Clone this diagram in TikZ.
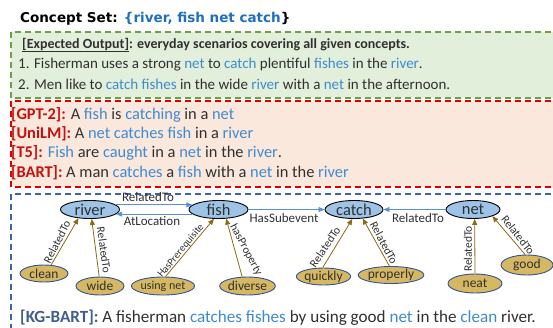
\documentclass[tikz,border=0pt]{standalone}
\usepackage{fontspec}
\setmainfont{Carlito}
\newfontfamily\titlefont{DejaVu Sans}
\usetikzlibrary{arrows.meta,shapes.geometric}
\definecolor{kwblue}{HTML}{3E8AD0}
\definecolor{ttlblue}{HTML}{1F6FC0}
\definecolor{redlbl}{HTML}{C81010}
\definecolor{kglbl}{HTML}{3F5E8C}
\definecolor{greenfill}{HTML}{E2EFDA}
\definecolor{greenline}{HTML}{6E9E48}
\definecolor{redfill}{HTML}{FBE8DD}
\definecolor{redline}{HTML}{E00000}
\definecolor{blueline}{HTML}{3F63A8}
\definecolor{nodefill}{HTML}{9DC3E6}
\definecolor{leaffill}{HTML}{D7B862}
\definecolor{leafline}{HTML}{2F5597}
\definecolor{edgeblue}{HTML}{5B8FD5}
\definecolor{edgebrown}{HTML}{8B6A14}
\definecolor{txtgray}{HTML}{303030}
\newcommand\kw[1]{\textcolor{kwblue}{#1}}
\tikzset{
  panel/.style={line width=1.1pt, dash pattern=on 6pt off 4pt},
  sent/.style={anchor=west, inner sep=0pt, font=\fontsize{15}{16}\selectfont, text=txtgray},
  redsent/.style={sent, font=\fontsize{16.4}{18}\selectfont},
  concept/.style={ellipse, draw=black, line width=0.9pt, fill=nodefill, inner sep=0pt, font=\fontsize{16.5}{18}\selectfont, text=txtgray},
  leaf/.style={ellipse, draw=leafline, line width=0.9pt, fill=leaffill, inner sep=0pt, font=\fontsize{13.5}{15}\selectfont, text=txtgray},
  rel/.style={-{Triangle[length=6pt,width=5pt]}, draw=edgeblue, line width=0.8pt},
  brel/.style={-{Triangle[length=6pt,width=5pt]}, draw=edgebrown, line width=0.8pt},
  elab/.style={font=\fontsize{13}{14}\selectfont, text=txtgray, inner sep=0pt},
  llab/.style={font=\fontsize{11.5}{12}\selectfont, text=txtgray, inner sep=0pt},
}
\begin{document}
\begin{tikzpicture}[x=1pt,y=-1pt]
\useasboundingbox (0,0) rectangle (553,327);
\clip (0,0) rectangle (553,327);
% panels
\draw[panel, draw=greenline, fill=greenfill] (11,32) rectangle (570,98);
\draw[panel, draw=redline, fill=redfill] (11,101) rectangle (570,187);
\draw[panel, draw=blueline] (11,194) rectangle (570,340);
% title
\node[anchor=west, inner sep=0pt, font=\titlefont\bfseries\fontsize{13.5}{15}\selectfont] (title) at (20,19) {Concept Set: \textcolor{ttlblue}{\{river, fish net catch}\}};
% expected output
\node[sent, font=\bfseries\fontsize{14}{15}\selectfont] (exp) at (22,45) {\underline{[Expected Output]}: everyday scenarios covering all given concepts.};
\node[sent] (s1) at (18,65) {1. Fisherman uses a strong \kw{net} to \kw{catch} plentiful \kw{fishes} in the \kw{river}.};
\node[sent] (s2) at (18,84) {2. Men like to \kw{catch fishes} in the wide \kw{river} with a \kw{net} in the afternoon.};
% baselines
\node[redsent] (gpt) at (11,115) {\textcolor{redlbl}{\bfseries [GPT-2]:} A \kw{fish} is \kw{catching} in a \kw{net}};
\node[redsent] (uni) at (11,134) {\textcolor{redlbl}{\bfseries [UniLM]:} A \kw{net catches fish} in a \kw{river}};
\node[redsent] (t5) at (11,153) {\textcolor{redlbl}{\bfseries [T5]:} \kw{Fish} are \kw{caught} in a \kw{net} in the \kw{river}.};
\node[redsent] (bart) at (11,173) {\textcolor{redlbl}{\bfseries [BART]:} A man \kw{catches} a \kw{fish} with a \kw{net} in the \kw{river}};
% KG-BART
\node[sent, font=\fontsize{17.1}{19}\selectfont] (kg) at (20,318) {\textcolor{kglbl}{\bfseries [KG-BART]:} A fisherman \kw{catches fishes} by using good \kw{net} in the \kw{clean} river.};
% concept nodes
\node[concept, minimum width=59pt, minimum height=18pt] (river) at (90,209.5) {river};
\node[concept, minimum width=59pt, minimum height=18pt] (fish) at (218.5,209.5) {fish};
\node[concept, minimum width=58pt, minimum height=18pt] (catch) at (354,209.5) {catch};
\node[concept, minimum width=54pt, minimum height=18pt] (net) at (473,209.5) {net};
% leaf nodes
\node[leaf, minimum width=48pt, minimum height=17pt] (clean) at (44,273.5) {clean};
\node[leaf, minimum width=48pt, minimum height=18pt] (wide) at (100,286) {wide};
\node[leaf, minimum width=52pt, minimum height=18pt, font=\fontsize{12}{13}\selectfont] (using) at (163,286) {using net};
\node[leaf, minimum width=44pt, minimum height=18pt] (diverse) at (247.5,286) {diverse};
\node[leaf, minimum width=53pt, minimum height=17pt] (quickly) at (323.5,276.5) {quickly};
\node[leaf, minimum width=54pt, minimum height=17pt] (properly) at (391,275) {properly};
\node[leaf, minimum width=54pt, minimum height=19pt] (neat) at (475,283.5) {neat};
\node[leaf, minimum width=52pt, minimum height=20pt] (good) at (527,265) {good};
% concept edges
\draw[rel] (river.10) -- (fish.170);
\node[elab] (l1) at (148,197) {RelatedTo};
\draw[rel] (fish.190) -- (river.350);
\node[elab] (l2) at (152,221) {AtLocation};
\draw[rel] (fish.east) -- (catch.west);
\node[elab] (l3) at (284,218) {HasSubevent};
\draw[rel] (net.west) -- (catch.east);
\node[elab] (l4) at (418,218) {RelatedTo};
% leaf edges
\draw[brel] (clean.50) -- (river.217);
\node[llab, rotate=63] (m1) at (57,242) {RelatedTo};
\draw[brel] (wide.95) -- (river.280);
\node[llab, rotate=-82] (m2) at (104,250) {RelatedTo};
\draw[brel] (using.75) -- (fish.244);
\node[llab, rotate=50, font=\fontsize{10.3}{11}\selectfont] (m3) at (181,251) {HasPrerequisite};
\draw[brel] (diverse.120) -- (fish.310);
\node[llab, rotate=-62] (m4) at (246,250) {hasProperty};
\draw[brel] (quickly.95) -- (catch.260);
\node[llab, rotate=56] (m5) at (325,247) {RelatedTo};
\draw[brel] (properly.100) -- (catch.314);
\node[llab, rotate=-62] (m6) at (384,243) {RelatedTo};
\draw[brel] (neat.90) -- (net.280);
\node[llab, rotate=90] (m7) at (468,249) {RelatedTo};
\draw[brel] (good.100) -- (net.341);
\node[llab, rotate=-52] (m8) at (518,235) {RelatedTo};
\end{tikzpicture}
\end{document}
